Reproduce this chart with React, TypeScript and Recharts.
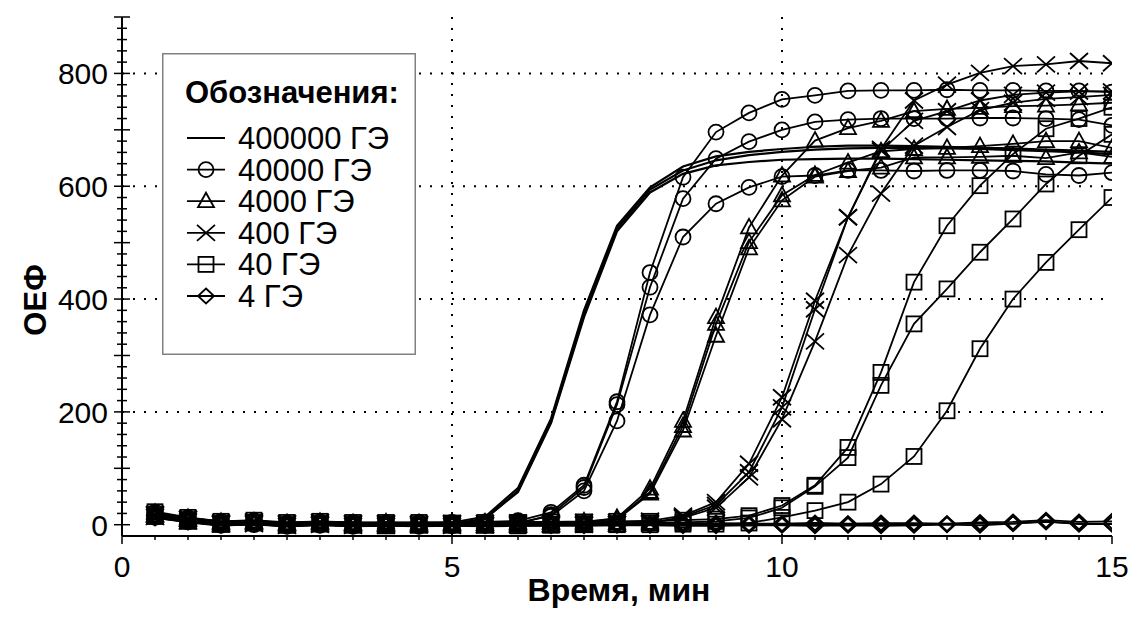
import React from 'react';
import { LineChart, Line, XAxis, YAxis, ReferenceLine, Legend } from 'recharts';

const FONT = '"Liberation Sans", Arial, Helvetica, sans-serif';

// time, min
const time = [0.5, 1, 1.5, 2, 2.5, 3, 3.5, 4, 4.5, 5, 5.5, 6, 6.5, 7, 7.5, 8, 8.5, 9, 9.5, 10, 10.5, 11, 11.5, 12, 12.5, 13, 13.5, 14, 14.5, 15];

// 400000 ГЭ
const ge400000a = [20, 11, 5, 6, 3, 5, 3, 2, 3, 4, 14, 65, 188, 380, 530, 598, 635, 653, 661, 666, 670, 672, 672, 671, 670, 668, 667, 665, 663, 661];
const ge400000b = [14, 6, 0, 1, -2, 0, -2, -1, -2, -1, 10, 60, 183, 372, 525, 594, 628, 646, 655, 661, 665, 667, 668, 668, 667, 666, 664, 662, 660, 657];
const ge400000c = [17, 9, 3, 4, 1, 3, 1, 1, 1, 1, 11, 58, 180, 368, 520, 589, 622, 637, 643, 647, 648, 649, 649, 648, 647, 646, 645, 644, 642, 640];
// 40000 ГЭ
const ge40000a = [22, 12, 6, 7, 3, 5, 4, 3, 4, 4, 5, 7, 22, 70, 218, 447, 616, 696, 730, 754, 761, 769, 770, 770, 771, 770, 770, 769, 769, 767];
const ge40000b = [13, 5, -1, 0, -3, -1, -3, -2, -3, -2, -1, 1, 18, 66, 213, 421, 578, 649, 679, 700, 714, 718, 720, 720, 720, 721, 721, 720, 718, 708];
const ge40000c = [18, 9, 3, 5, 1, 3, 2, 2, 2, 1, 2, 4, 15, 60, 184, 372, 510, 569, 598, 617, 619, 628, 628, 627, 628, 628, 627, 621, 619, 624];
// 4000 ГЭ
const ge4000a = [16, 8, 3, 4, 1, 3, 1, 0, 1, 1, 1, 2, 3, 4, 12, 64, 184, 368, 527, 619, 681, 703, 716, 733, 737, 739, 742, 743, 745, 748];
const ge4000b = [21, 12, 5, 6, 3, 5, 3, 4, 3, 3, 4, 4, 5, 6, 10, 58, 175, 356, 501, 584, 620, 642, 662, 666, 668, 671, 675, 680, 680, 668];
const ge4000c = [12, 4, -2, 1, -3, 0, -2, -2, -2, -2, -3, -2, -1, 0, 9, 55, 167, 335, 490, 575, 617, 627, 633, 651, 651, 652, 654, 650, 660, 652];
// 400 ГЭ
const ge400a = [19, 11, 4, 6, 3, 5, 3, 3, 2, 3, 3, 4, 4, 5, 5, 7, 16, 40, 108, 226, 397, 545, 666, 752, 780, 801, 813, 816, 822, 818];
const ge400b = [14, 6, 1, 1, -2, 0, -2, -2, -1, -2, -1, -1, 0, 0, 1, 2, 14, 35, 93, 208, 382, 545, 663, 716, 733, 752, 762, 766, 768, 768];
const ge400c = [17, 10, 2, 4, 1, 2, 1, 1, 1, 1, 0, 1, 1, 2, 2, 4, 12, 30, 84, 187, 325, 478, 587, 672, 705, 735, 748, 755, 758, 762];
// 40 ГЭ
const ge40a = [23, 13, 6, 8, 4, 6, 4, 4, 4, 3, 4, 4, 5, 5, 6, 6, 8, 10, 16, 34, 70, 137, 270, 430, 530, 601, 657, 702, 720, 740];
const ge40b = [19, 9, 2, 4, 0, 2, 0, 1, 0, 1, 0, 1, 1, 2, 2, 3, 4, 6, 12, 30, 68, 119, 247, 356, 418, 483, 542, 604, 654, 692];
const ge40c = [15, 6, 1, 3, -1, 1, -1, -2, -1, -1, -1, -2, -1, 0, 0, 0, 1, 1, 3, 13, 25, 40, 72, 121, 202, 312, 400, 465, 523, 580];
// 4 ГЭ
const ge4a = [17, 10, 4, 5, 2, 4, 3, 2, 3, 2, 3, 2, 2, 3, 3, 2, 3, 3, 2, 2, 3, 2, 3, 3, 2, 4, 5, 8, 5, 6];
const ge4b = [12, 5, -1, 1, -2, 0, -2, -1, -2, -2, -2, -1, -2, -2, -1, -1, -2, -2, -1, -1, -2, -1, -2, -1, 0, -1, 2, 6, 1, 1];
const ge4c = [16, 9, 2, 4, 1, 3, 0, 0, 0, 1, 0, 0, 1, 0, 0, 0, 1, 0, 0, 0, 1, 0, 0, 0, 1, 2, 2, 5, 2, 2];

// axes
const xLabelTicks = [0, 5, 10, 15];
const yLabelTicks = [0, 200, 400, 600, 800];
const xGridLines = [5, 10];
const yGridLines = [200, 400, 600, 800];
const xDomain = [0, 15];
const yDomain = [-20, 900];
const xMinorTicks = Array.from({ length: 31 }, (_, i) => i * 0.5);
const yMinorTicks = Array.from({ length: 46 }, (_, i) => i * 20);

const xTitle = 'Время, мин';
const yTitle = 'ОЕФ';
const legendTitle = 'Обозначения:';

type Shape = 'none' | 'circle' | 'triangle' | 'cross' | 'square' | 'diamond';

const legendItems: { label: string; shape: Shape }[] = [
  { label: '400000 ГЭ', shape: 'none' },
  { label: '40000 ГЭ', shape: 'circle' },
  { label: '4000 ГЭ', shape: 'triangle' },
  { label: '400 ГЭ', shape: 'cross' },
  { label: '40 ГЭ', shape: 'square' },
  { label: '4 ГЭ', shape: 'diamond' },
];

const seriesList: { key: string; values: number[]; shape: Shape }[] = [
  { key: 'ge400000a', values: ge400000a, shape: 'none' },
  { key: 'ge400000b', values: ge400000b, shape: 'none' },
  { key: 'ge400000c', values: ge400000c, shape: 'none' },
  { key: 'ge40000a', values: ge40000a, shape: 'circle' },
  { key: 'ge40000b', values: ge40000b, shape: 'circle' },
  { key: 'ge40000c', values: ge40000c, shape: 'circle' },
  { key: 'ge4000a', values: ge4000a, shape: 'triangle' },
  { key: 'ge4000b', values: ge4000b, shape: 'triangle' },
  { key: 'ge4000c', values: ge4000c, shape: 'triangle' },
  { key: 'ge400a', values: ge400a, shape: 'cross' },
  { key: 'ge400b', values: ge400b, shape: 'cross' },
  { key: 'ge400c', values: ge400c, shape: 'cross' },
  { key: 'ge40a', values: ge40a, shape: 'square' },
  { key: 'ge40b', values: ge40b, shape: 'square' },
  { key: 'ge40c', values: ge40c, shape: 'square' },
  { key: 'ge4a', values: ge4a, shape: 'diamond' },
  { key: 'ge4b', values: ge4b, shape: 'diamond' },
  { key: 'ge4c', values: ge4c, shape: 'diamond' },
];

const rows = time.map((t, i) => {
  const r: Record<string, number> = { t };
  seriesList.forEach((s) => {
    r[s.key] = s.values[i];
  });
  return r;
});

function Marker({ shape, cx, cy }: { shape: Shape; cx: number; cy: number }) {
  if (cx == null || cy == null || isNaN(cx) || isNaN(cy)) return null;
  const common = { fill: 'none', stroke: '#000', strokeWidth: 1.8 };
  switch (shape) {
    case 'circle':
      return <circle cx={cx} cy={cy} r={7.5} {...common} />;
    case 'triangle':
      return <path d={`M${cx},${cy - 8.5} L${cx + 8},${cy + 6} L${cx - 8},${cy + 6} Z`} {...common} />;
    case 'cross':
      return <path d={`M${cx - 9},${cy - 8} L${cx + 9},${cy + 8} M${cx - 9},${cy + 8} L${cx + 9},${cy - 8}`} {...common} />;
    case 'square':
      return <rect x={cx - 7.5} y={cy - 7.5} width={15} height={15} {...common} />;
    case 'diamond':
      return <path d={`M${cx},${cy - 7.5} L${cx + 8},${cy} L${cx},${cy + 7.5} L${cx - 8},${cy} Z`} {...common} />;
    default:
      return null;
  }
}

const BottomTick = (props: any) => {
  const { x, y, payload } = props;
  const v = payload.value;
  const isLabel = xLabelTicks.includes(v);
  return (
    <g>
      <line x1={x} x2={x} y1={y} y2={y + (isLabel ? 8 : 4)} stroke="#000" strokeWidth={1.5} />
      {isLabel && (
        <text x={x} y={y + 41} textAnchor="middle" fontSize={30} fontFamily={FONT} fill="#000">
          {v}
        </text>
      )}
    </g>
  );
};

const TopTick = (props: any) => {
  const { x, y, payload } = props;
  const v = payload.value;
  const major = v % 2.5 === 0;
  return <line x1={x} x2={x} y1={y} y2={y + (major ? 8 : 5)} stroke="#000" strokeWidth={1.5} />;
};

const LeftTick = (props: any) => {
  const { x, y, payload } = props;
  const v = payload.value;
  const major = v % 100 === 0;
  const len = major ? 8 : 5;
  const isLabel = yLabelTicks.includes(v);
  return (
    <g>
      <line x1={x - len} x2={x + len} y1={y} y2={y} stroke="#000" strokeWidth={1.5} />
      {isLabel && (
        <text x={x - 14} y={y + 11} textAnchor="end" fontSize={30} fontFamily={FONT} fill="#000">
          {v}
        </text>
      )}
    </g>
  );
};

const RightTick = (props: any) => {
  const { x, y, payload } = props;
  const v = payload.value;
  const major = v % 100 === 0;
  return <line x1={x - (major ? 9 : 5)} x2={x} y1={y} y2={y} stroke="#000" strokeWidth={1.5} />;
};

const LegendBox = () => (
  <svg width={254} height={302} style={{ display: 'block' }}>
    <rect x={0.75} y={0.75} width={252.5} height={300.5} fill="#fff" stroke="#808080" strokeWidth={1.5} />
    <text x={23} y={50} fontSize={31} fontWeight="bold" fontFamily={FONT} fill="#000">
      {legendTitle}
    </text>
    {legendItems.map((it, i) => {
      const cy = 85 + i * 31.6;
      return (
        <g key={it.label}>
          <line x1={25} x2={63} y1={cy} y2={cy} stroke="#000" strokeWidth={1.8} />
          <Marker shape={it.shape} cx={44} cy={cy} />
          <text x={76} y={cy + 11} fontSize={31} fontFamily={FONT} fill="#000">
            {it.label}
          </text>
        </g>
      );
    })}
  </svg>
);

export default function App() {
  return (
    <div style={{ position: 'absolute', left: 0, top: 0, width: 1132, height: 620, background: '#fff' }}>
      <LineChart width={1132} height={620} data={rows} margin={{ top: 17, right: 20, bottom: 0, left: 0 }}>
        <XAxis
          xAxisId="b"
          dataKey="t"
          type="number"
          domain={xDomain}
          allowDataOverflow
          ticks={xMinorTicks}
          interval={0}
          tickSize={0}
          tickMargin={0}
          tick={BottomTick}
          tickLine={false}
          axisLine={{ stroke: '#000', strokeWidth: 2 }}
          height={84}
          label={{
            content: (p: any) => {
              const vb = p.viewBox || { x: 122, y: 536, width: 990, height: 84 };
              return (
                <text
                  x={vb.x + vb.width / 2 + 2}
                  y={vb.y + vb.height - 19}
                  textAnchor="middle"
                  fontSize={32}
                  fontWeight="bold"
                  fontFamily={FONT}
                  fill="#000"
                >
                  {xTitle}
                </text>
              );
            },
          }}
        />
        <XAxis
          xAxisId="t"
          orientation="top"
          mirror
          type="number"
          dataKey="t"
          domain={xDomain}
          allowDataOverflow
          ticks={xMinorTicks}
          interval={0}
          tickSize={0}
          tickMargin={0}
          tick={TopTick}
          tickLine={false}
          axisLine={{ stroke: '#000', strokeWidth: 2 }}
          height={0}
        />
        <YAxis
          yAxisId="l"
          type="number"
          domain={yDomain}
          allowDataOverflow
          ticks={yMinorTicks}
          interval={0}
          tickSize={0}
          tickMargin={0}
          tick={LeftTick}
          tickLine={false}
          axisLine={{ stroke: '#000', strokeWidth: 2 }}
          width={122}
          label={{
            content: () => (
              <text
                transform="translate(35,300) rotate(-90)"
                textAnchor="middle"
                dominantBaseline="central"
                fontSize={31}
                fontWeight="bold"
                fontFamily={FONT}
                fill="#000"
              >
                {yTitle}
              </text>
            ),
          }}
        />
        <YAxis
          yAxisId="r"
          orientation="right"
          mirror
          type="number"
          domain={yDomain}
          allowDataOverflow
          ticks={yMinorTicks}
          interval={0}
          tickSize={0}
          tickMargin={0}
          tick={RightTick}
          tickLine={false}
          axisLine={{ stroke: '#000', strokeWidth: 2 }}
          width={0}
        />
        {xGridLines.map((v) => (
          <ReferenceLine key={`gx${v}`} xAxisId="b" yAxisId="l" x={v} stroke="#000" strokeWidth={2} strokeDasharray="2 9" />
        ))}
        {yGridLines.map((v) => (
          <ReferenceLine key={`gy${v}`} xAxisId="b" yAxisId="l" y={v} stroke="#000" strokeWidth={2} strokeDasharray="2 9" />
        ))}
        {seriesList.map((s) => (
          <Line
            key={s.key}
            xAxisId="b"
            yAxisId="l"
            type="linear"
            dataKey={s.key}
            stroke="#000"
            strokeWidth={s.shape === 'none' ? 2.2 : 1.8}
            dot={
              s.shape === 'none'
                ? false
                : (p: any) => <Marker key={`${s.key}-${p.index}`} shape={s.shape} cx={p.cx} cy={p.cy} />
            }
            activeDot={false}
            legendType="none"
            isAnimationActive={false}
          />
        ))}
        <Legend
          content={<LegendBox />}
          layout="vertical"
          align="center"
          verticalAlign="middle"
          wrapperStyle={{ left: 162, top: 53, width: 254, height: 302 }}
        />
      </LineChart>
    </div>
  );
}
